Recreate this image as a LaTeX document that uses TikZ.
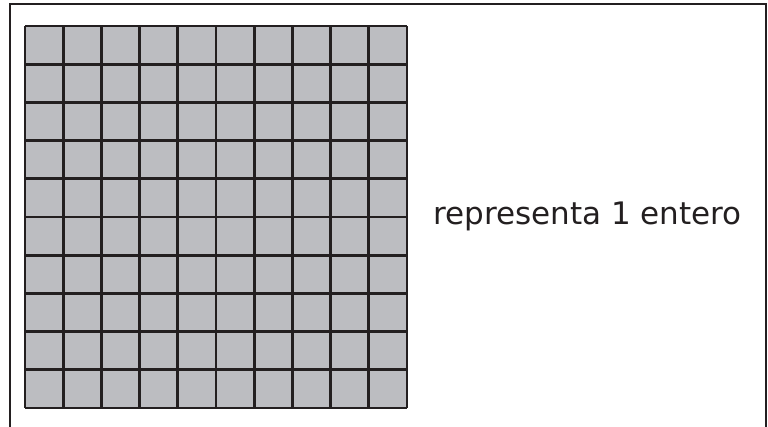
\documentclass[tikz,border=0pt]{standalone}
\usepackage{fontspec}
\setmainfont{DejaVu Sans}
\usepackage{xcolor}
\definecolor{ink}{HTML}{231F20}
\definecolor{cellgray}{HTML}{BCBDC1}
\tikzset{
  frame/.style={draw=ink, line width=2.4pt},
  gridline/.style={draw=ink, line width=2.7pt},
  label/.style={text=ink, inner sep=0pt, font=\fontsize{31}{36}\selectfont}
}
\begin{document}
\begin{tikzpicture}[x=1pt,y=1pt]
        \useasboundingbox (0,0) rectangle (768,427);
        % open frame
        \draw[frame] (10,0) -- (10,423) -- (766,423) -- (766,0);
        % hundred square
        \fill[cellgray] (25,19) rectangle (407,401);
        \foreach \i in {0,...,10} {
          \draw[gridline] (25+\i*38.2,19) -- (25+\i*38.2,401);
          \draw[gridline] (25,19+\i*38.2) -- (407,19+\i*38.2);
        }
        \node[label,anchor=base] (lab) at (587.5,202) {representa 1 entero};
      \end{tikzpicture}
\end{document}
